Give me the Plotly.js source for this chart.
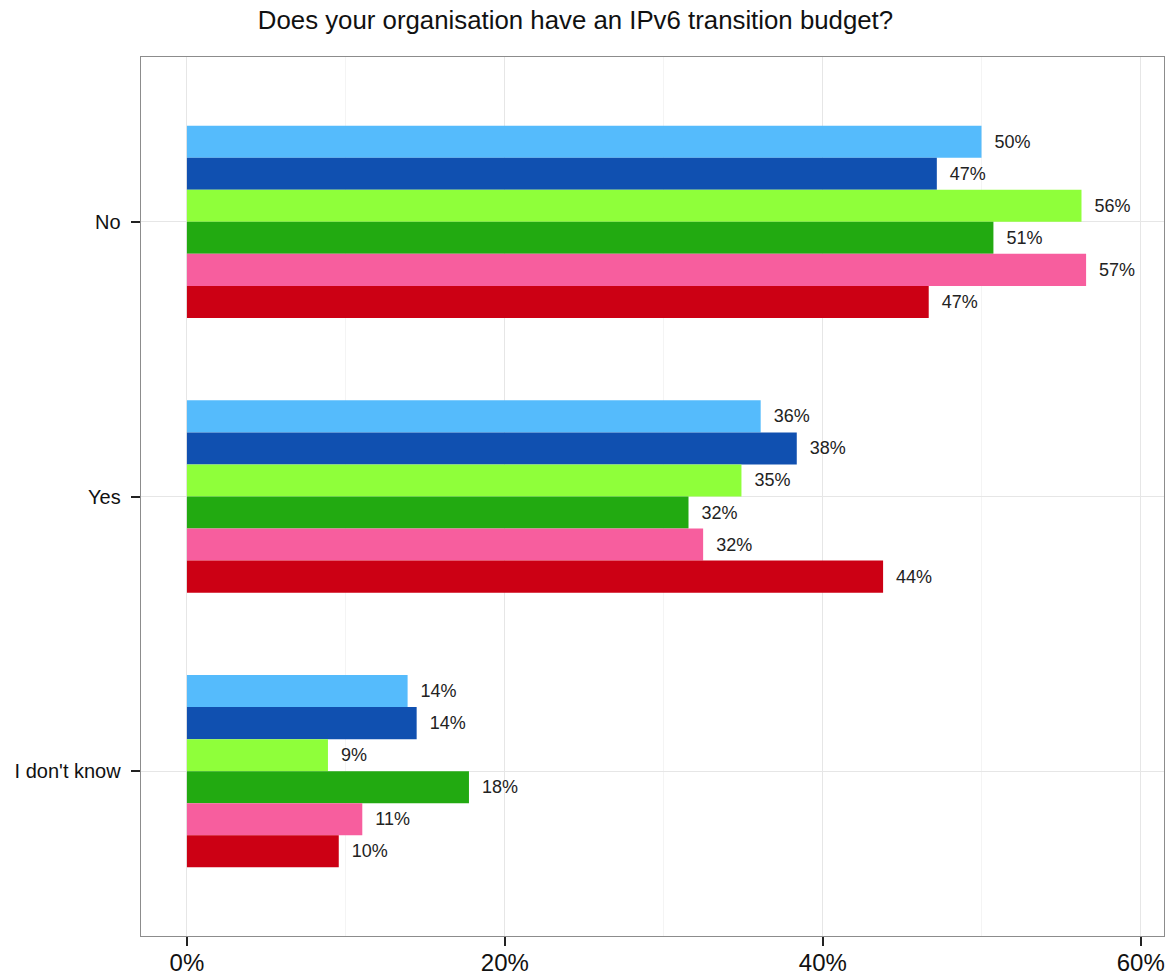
<!DOCTYPE html>
<html>
<head>
<meta charset="utf-8">
<script src="https://cdn.plot.ly/plotly-3.0.1.min.js"></script>
<style>
  html, body { margin: 0; padding: 0; background: #ffffff; }
  #chart { width: 1174px; height: 977px; }
</style>
</head>
<body>
<div id="chart"></div>
<script>
// Categories (top to bottom)
const categories = ["No", "Yes", "I don't know"];

// Series values (percent), in top-to-bottom order within each group
const seriesNames = ["Series 1", "Series 2", "Series 3", "Series 4", "Series 5", "Series 6"];
const series1 = [49.98, 36.09, 13.88];
const series2 = [47.17, 38.36, 14.45];
const series3 = [56.27, 34.88, 8.87];
const series4 = [50.73, 31.55, 17.74];
const series5 = [56.56, 32.47, 11.03];
const series6 = [46.66, 43.79, 9.55];

const seriesColors = ["#55BBFC", "#1050B0", "#8FFF3A", "#22AA11", "#F75E9E", "#CC0014"];

const xTickVals = [0, 20, 40, 60];
const xTickText = ["0%", "20%", "40%", "60%"];

const allSeries = [series1, series2, series3, series4, series5, series6];

const FONT = "Liberation Sans, Arial, Helvetica, sans-serif";

const traces = allSeries.map((vals, i) => ({
  type: "bar",
  orientation: "h",
  name: seriesNames[i],
  y: categories,
  x: vals,
  marker: { color: seriesColors[i], line: { width: 0 } },
  texttemplate: "\u00a0\u00a0%{x:.0f}%",
  textposition: "outside",
  constraintext: "none",
  cliponaxis: false,
  textfont: { family: FONT, size: 18, color: "#222222" },
  hoverinfo: "x+y+name"
}));

const layout = {
  width: 1174,
  height: 977,
  margin: { l: 141, r: 10, t: 57, b: 41, pad: 0 },
  paper_bgcolor: "#ffffff",
  plot_bgcolor: "#ffffff",
  showlegend: false,
  barmode: "group",
  bargap: 0.3,
  bargroupgap: 0,
  font: { family: FONT, color: "#111111" },
  title: {
    text: "Does your organisation have an IPv6 transition budget?",
    font: { family: FONT, size: 25.8, color: "#111111" },
    x: 0.4902,
    xref: "container",
    xanchor: "center",
    y: 0.9795,
    yref: "container",
    yanchor: "middle"
  },
  xaxis: {
    range: [-2.89, 61.46],
    tickvals: xTickVals,
    ticktext: xTickText,
    tickfont: { family: FONT, size: 24, color: "#111111" },
    ticks: "outside",
    ticklen: 9,
    tickwidth: 2,
    tickcolor: "#222222",
    ticklabelstandoff: -4,
    showgrid: true,
    gridcolor: "#e6e6e6",
    gridwidth: 1,
    minor: { dtick: 10, tick0: 0, showgrid: true, gridcolor: "#f4f4f4", gridwidth: 1 },
    zeroline: false,
    showline: true,
    mirror: true,
    linecolor: "#8c8c8c",
    linewidth: 1.3,
    fixedrange: true
  },
  yaxis: {
    type: "category",
    categoryorder: "array",
    categoryarray: categories,
    range: [2.6, -0.6],
    tickfont: { family: FONT, size: 20, color: "#111111" },
    ticks: "outside",
    ticklen: 9,
    tickwidth: 2,
    tickcolor: "#222222",
    ticklabelstandoff: 6,
    showgrid: true,
    gridcolor: "#e6e6e6",
    gridwidth: 1,
    zeroline: false,
    showline: true,
    mirror: true,
    linecolor: "#8c8c8c",
    linewidth: 1.3,
    fixedrange: true
  }
};

Plotly.newPlot("chart", traces, layout, { displayModeBar: false, staticPlot: true });
</script>
</body>
</html>
